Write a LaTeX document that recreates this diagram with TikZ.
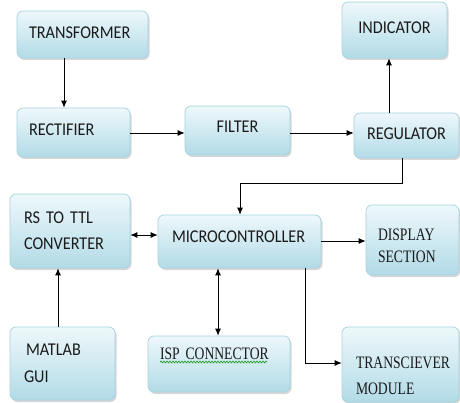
\documentclass[tikz,border=0pt]{standalone}
\usepackage{fontspec}
\setmainfont[FakeStretch=0.9]{Carlito}
\newfontfamily\serifn[FakeStretch=0.78]{Liberation Serif}
\usetikzlibrary{arrows.meta,shadows,decorations.pathmorphing,calc}
\definecolor{boxedge}{HTML}{A6D2DF}
\definecolor{boxtop}{HTML}{EEF8FB}
\definecolor{boxbot}{HTML}{B2DBE7}
\definecolor{textc}{HTML}{1A1A1A}
\begin{document}
\begin{tikzpicture}[x=1pt,y=-1pt,
  box/.style={rounded corners=6pt, draw=boxedge, line width=0.7pt,
    top color=boxtop, bottom color=boxbot,
    drop shadow={shadow xshift=1.5pt,shadow yshift=-2pt,opacity=0.35,fill=black!45},
    inner sep=0pt, font=\fontsize{18}{26}\selectfont, text=textc},
  serifbox/.style={box, font=\serifn\fontsize{17.5}{22}\selectfont},
  arr/.style={-{Latex[length=7pt,width=6pt]}, line width=0.8pt},
  darr/.style={{Latex[length=7pt,width=6pt]}-{Latex[length=7pt,width=6pt]}, line width=0.8pt}]
\useasboundingbox (0,0) rectangle (460,403);

\node[box, minimum width=131pt, minimum height=47pt, text width=107pt, align=left, text depth=3pt] (trans) at (82.5,34.5) {TRANSFORMER};
\node[box, minimum width=113pt, minimum height=49pt, text width=89pt, align=left, text depth=5pt] (rect) at (73.5,132.5) {RECTIFIER};
\node[box, minimum width=105pt, minimum height=49pt, text depth=7pt] (filter) at (237.5,130.5) {FILTER};
\node[box, minimum width=105pt, minimum height=56pt, text depth=4pt] (ind) at (394.5,30) {INDICATOR};
\node[box, minimum width=105pt, minimum height=45pt, text depth=3pt] (reg) at (406.5,135.5) {REGULATOR};
\node[box, minimum width=120pt, minimum height=74pt, text width=92pt, align=left] (rs) at (70,231) {RS TO TTL\\CONVERTER};
\node[box, minimum width=163pt, minimum height=53pt, text width=135pt, align=left, text depth=9pt] (micro) at (239.5,241.5) {MICROCONTROLLER};
\node[serifbox, minimum width=93pt, minimum height=70pt, text width=69pt, align=left, text depth=10pt] (disp) at (412.5,240) {DISPLAY\\SECTION};
\node[box, minimum width=105pt, minimum height=73pt, text width=77pt, align=left, font=\fontsize{18}{27}\selectfont] (matlab) at (62.5,363.5) {\hspace*{2pt}MATLAB\\GUI};
\node[serifbox, minimum width=142pt, minimum height=56pt, text width=118pt, align=left, text depth=20pt] (isp) at (219,364) {ISP CONNECTOR};
\node[serifbox, minimum width=117pt, minimum height=75pt, text width=105pt, align=left, text depth=3pt, font=\serifn\fontsize{17.5}{26}\selectfont] (transc) at (400.5,364.5) {\hspace*{8pt}\mbox{TRANSCIEVER}\\\hspace*{8pt}\mbox{MODULE}};

\draw[green!55!black, line width=0.5pt, decorate, decoration={snake, amplitude=1pt, segment length=3pt}] (160,362) -- (267,362);

\coordinate (xa) at (64,0);
\coordinate (ya) at (0,133);
\coordinate (xb) at (389,0);
\coordinate (xc) at (402,0);
\coordinate (yc) at (0,183);
\coordinate (xd) at (240,0);
\coordinate (ye) at (0,235);
\coordinate (xf) at (58,0);
\coordinate (xg) at (218,0);
\coordinate (yh) at (0,241);
\coordinate (xi) at (305,0);
\coordinate (yi) at (0,363);

\draw[arr] (trans.south -| xa) -- (rect.north -| xa);
\draw[arr] (rect.east |- ya) -- (filter.west |- ya);
\draw[arr] (filter.east |- ya) -- (reg.west |- ya);
\draw[arr] (reg.north -| xb) -- (ind.south -| xb);
\draw[arr] (reg.south -| xc) -- (xc |- yc) -- (xd |- yc) -- (micro.north -| xd);
\draw[darr] (rs.east |- ye) -- (micro.west |- ye);
\draw[arr] (matlab.north -| xf) -- (rs.south -| xf);
\draw[darr] (micro.south -| xg) -- (isp.north -| xg);
\draw[arr] (micro.east |- yh) -- (disp.west |- yh);
\draw[arr] (micro.south -| xi) -- (xi |- yi) -- (transc.west |- yi);
\end{tikzpicture}
\end{document}
